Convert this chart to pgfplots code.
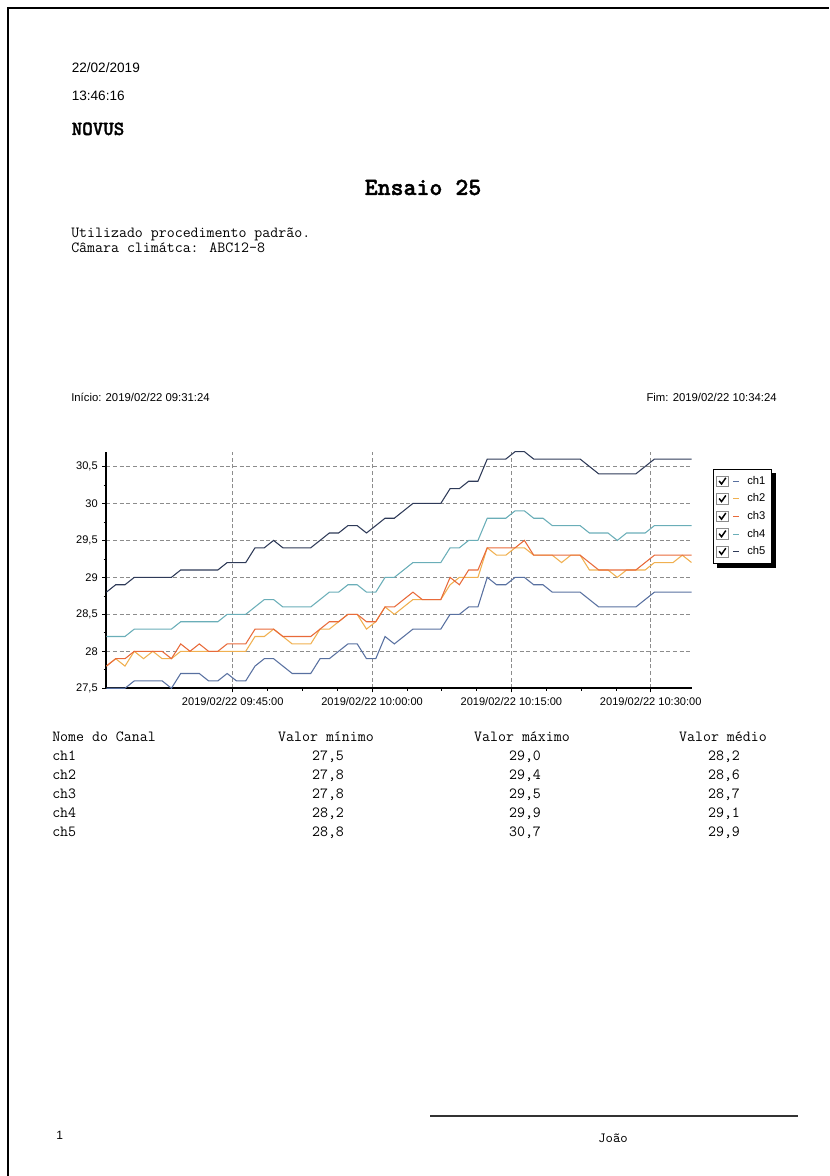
\documentclass[border=0pt]{standalone}
\usepackage{fontspec}
\setmainfont{Liberation Sans}
\newfontfamily\monob{lmmonolt10-bold.otf}[FakeBold=1.6]
\usepackage{pgfplots}
\pgfplotsset{compat=1.18}
\usepackage{pgfplotstable}
\pgfdeclarelayer{background}
\pgfsetlayers{background,main}

\definecolor{cOne}{RGB}{88,112,160}
\definecolor{cTwo}{RGB}{240,176,80}
\definecolor{cThree}{RGB}{232,106,58}
\definecolor{cFour}{RGB}{106,174,184}
\definecolor{cFive}{RGB}{46,58,88}

\pgfplotstableread{
t ch1 ch2 ch3 ch4 ch5
31.4 27.5 27.8 27.8 28.2 28.8
32.4 27.5 27.9 27.9 28.2 28.9
33.4 27.5 27.8 27.9 28.2 28.9
34.4 27.6 28.0 28.0 28.3 29.0
35.4 27.6 27.9 28.0 28.3 29.0
36.4 27.6 28.0 28.0 28.3 29.0
37.4 27.6 27.9 28.0 28.3 29.0
38.4 27.5 27.9 27.9 28.3 29.0
39.4 27.7 28.0 28.1 28.4 29.1
40.4 27.7 28.0 28.0 28.4 29.1
41.4 27.7 28.0 28.1 28.4 29.1
42.4 27.6 28.0 28.0 28.4 29.1
43.4 27.6 28.0 28.0 28.4 29.1
44.4 27.7 28.0 28.1 28.5 29.2
45.4 27.6 28.0 28.1 28.5 29.2
46.4 27.6 28.0 28.1 28.5 29.2
47.4 27.8 28.2 28.3 28.6 29.4
48.4 27.9 28.2 28.3 28.7 29.4
49.4 27.9 28.3 28.3 28.7 29.5
50.4 27.8 28.2 28.2 28.6 29.4
51.4 27.7 28.1 28.2 28.6 29.4
52.4 27.7 28.1 28.2 28.6 29.4
53.4 27.7 28.1 28.2 28.6 29.4
54.4 27.9 28.3 28.3 28.7 29.5
55.4 27.9 28.3 28.4 28.8 29.6
56.4 28.0 28.4 28.4 28.8 29.6
57.4 28.1 28.5 28.5 28.9 29.7
58.4 28.1 28.5 28.5 28.9 29.7
59.4 27.9 28.3 28.4 28.8 29.6
60.4 27.9 28.4 28.4 28.8 29.7
61.4 28.2 28.6 28.6 29.0 29.8
62.4 28.1 28.5 28.6 29.0 29.8
63.4 28.2 28.6 28.7 29.1 29.9
64.4 28.3 28.7 28.8 29.2 30.0
65.4 28.3 28.7 28.7 29.2 30.0
66.4 28.3 28.7 28.7 29.2 30.0
67.4 28.3 28.7 28.7 29.2 30.0
68.4 28.5 28.9 29.0 29.4 30.2
69.4 28.5 29.0 28.9 29.4 30.2
70.4 28.6 29.0 29.1 29.5 30.3
71.4 28.6 29.0 29.1 29.5 30.3
72.4 29.0 29.4 29.4 29.8 30.6
73.4 28.9 29.3 29.4 29.8 30.6
74.4 28.9 29.3 29.4 29.8 30.6
75.4 29.0 29.4 29.4 29.9 30.7
76.4 29.0 29.4 29.5 29.9 30.7
77.4 28.9 29.3 29.3 29.8 30.6
78.4 28.9 29.3 29.3 29.8 30.6
79.4 28.8 29.3 29.3 29.7 30.6
80.4 28.8 29.2 29.3 29.7 30.6
81.4 28.8 29.3 29.3 29.7 30.6
82.4 28.8 29.3 29.3 29.7 30.6
83.4 28.7 29.1 29.2 29.6 30.5
84.4 28.6 29.1 29.1 29.6 30.4
85.4 28.6 29.1 29.1 29.6 30.4
86.4 28.6 29.0 29.1 29.5 30.4
87.4 28.6 29.1 29.1 29.6 30.4
88.4 28.6 29.1 29.1 29.6 30.4
89.4 28.7 29.1 29.2 29.6 30.5
90.4 28.8 29.2 29.3 29.7 30.6
91.4 28.8 29.2 29.3 29.7 30.6
92.4 28.8 29.2 29.3 29.7 30.6
93.4 28.8 29.3 29.3 29.7 30.6
94.4 28.8 29.2 29.3 29.7 30.6
}\datatable

\begin{document}
\begin{tikzpicture}
\begin{scope}[x=0.75pt,y=-0.75pt]
\path[use as bounding box] (0,0) rectangle (829,1176);
\draw[line width=0.8pt] (8,1176) -- (8,8) -- (829,8);
% header
\node[anchor=base west, inner sep=0, font=\fontsize{10.2}{12}\selectfont] at (71.5,72.3) {22/02/2019};
\node[anchor=base west, inner sep=0, font=\fontsize{10.2}{12}\selectfont] at (71.5,101) {13:46:16};
\node[anchor=base west, inner sep=0, font=\monob\fontsize{15}{17}\selectfont] at (71.5,135) {NOVUS};
\node[anchor=base, inner sep=0, font=\monob\fontsize{18.5}{20}\selectfont] at (423,195) {Ensaio 25};
\node[anchor=base west, inner sep=0, font=\ttfamily\fontsize{11.6}{13}\selectfont] at (71,237.5) {Utilizado procedimento padrão.};
\node[anchor=base west, inner sep=0, font=\ttfamily\fontsize{11.6}{13}\selectfont] at (71,253) {Câmara climátca: ABC12-8};
\node[anchor=base west, inner sep=0, font=\fontsize{8.5}{10}\selectfont] at (71,401) {Início: 2019/02/22 09:31:24};
\node[anchor=base east, inner sep=0, font=\fontsize{8.5}{10}\selectfont] at (777,401) {Fim: 2019/02/22 10:34:24};
% table
\begin{scope}[every node/.style={inner sep=0, font=\ttfamily\fontsize{11.6}{13}\selectfont}]
\node[anchor=base west] at (52,741) {Nome do Canal};
\node[anchor=base] at (326,741) {Valor mínimo};
\node[anchor=base] at (522,741) {Valor máximo};
\node[anchor=base] at (723,741) {Valor médio};
\node[anchor=base west] at (52,760) {ch1};
\node[anchor=base] at (328,760) {27,5};
\node[anchor=base] at (525,760) {29,0};
\node[anchor=base] at (724,760) {28,2};
\node[anchor=base west] at (52,779) {ch2};
\node[anchor=base] at (328,779) {27,8};
\node[anchor=base] at (525,779) {29,4};
\node[anchor=base] at (724,779) {28,6};
\node[anchor=base west] at (52,798) {ch3};
\node[anchor=base] at (328,798) {27,8};
\node[anchor=base] at (525,798) {29,5};
\node[anchor=base] at (724,798) {28,7};
\node[anchor=base west] at (52,817) {ch4};
\node[anchor=base] at (328,817) {28,2};
\node[anchor=base] at (525,817) {29,9};
\node[anchor=base] at (724,817) {29,1};
\node[anchor=base west] at (52,836) {ch5};
\node[anchor=base] at (328,836) {28,8};
\node[anchor=base] at (525,836) {30,7};
\node[anchor=base] at (724,836) {29,9};
\end{scope}
% footer
\node[anchor=base west, inner sep=0, font=\fontsize{9}{10}\selectfont] at (56,1139) {1};
\draw[line width=0.9pt, black!80] (430,1116) -- (798,1116);
\node[anchor=base, inner sep=0, font=\ttfamily\fontsize{10.5}{12}\selectfont] at (613,1142) {João};
\end{scope}

\begin{axis}[
  at={(79.8pt,-516.2pt)}, anchor=south west,
  scale only axis, width=438.9pt, height=177.45pt,
  xmin=31.4, xmax=94.4, ymin=27.5, ymax=30.7,
  axis lines=left,
  axis line style={-, line width=1.5pt, black},
  xtick={45,60,75,90},
  xticklabels={2019/02/22 09:45:00,2019/02/22 10:00:00,2019/02/22 10:15:00,2019/02/22 10:30:00},
  minor x tick num=3,
  ytick={27.5,28,28.5,29,29.5,30,30.5},
  yticklabels={{27,5},28,{28,5},29,{29,5},30,{30,5}},
  minor y tick num=1,
  tick align=outside,
  major tick length=3pt, minor tick length=2pt,
  every tick/.style={black, line width=0.5pt},
  grid=major,
  major grid style={black!45, dash pattern=on 3pt off 2pt, line width=0.5pt},
  tick label style={font=\fontsize{8.3}{10}\selectfont},
  legend style={name=leg, at={(1,1)}, anchor=north west, xshift=15.8pt, yshift=-13.2pt,
    draw=black, line width=0.5pt, fill=white,
    font=\fontsize{8.4}{10}\selectfont, inner xsep=2.5pt, inner ysep=3pt, row sep=1.6pt,
    /tikz/every odd column/.append style={column sep=3.5pt}},
  legend cell align=left,
  legend image code/.code={
    \draw[draw=black!45, fill=white, line width=0.6pt, solid] (0pt,-4pt) rectangle (8.5pt,4pt);
    \draw[black, line width=1.1pt, solid] (1.8pt,0.3pt) -- (3.6pt,-2pt) -- (6.8pt,2.6pt);
    \draw[#1, solid] (12.5pt,0pt) -- (17pt,0pt);
  },
]
\addplot[cOne, line width=0.8pt] table[x=t,y=ch1]{\datatable};
\addplot[cTwo, line width=0.8pt] table[x=t,y=ch2]{\datatable};
\addplot[cThree, line width=0.8pt] table[x=t,y=ch3]{\datatable};
\addplot[cFour, line width=0.8pt] table[x=t,y=ch4]{\datatable};
\addplot[cFive, line width=0.8pt] table[x=t,y=ch5]{\datatable};
\legend{ch1,ch2,ch3,ch4,ch5}
\end{axis}
\begin{pgfonlayer}{background}
\fill[black] ([xshift=3pt,yshift=-3pt]leg.south west) rectangle ([xshift=3pt,yshift=-3pt]leg.north east);
\end{pgfonlayer}
\end{tikzpicture}
\end{document}
